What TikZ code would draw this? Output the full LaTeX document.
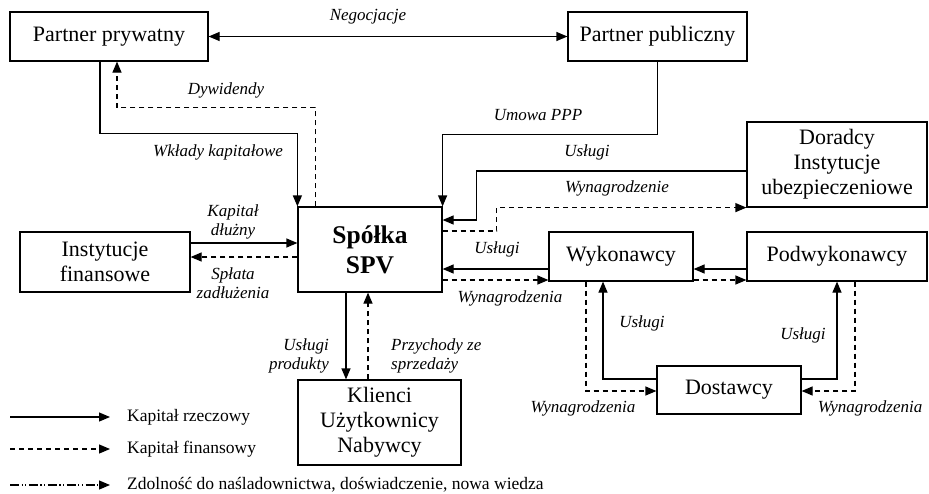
\documentclass[tikz,border=0pt]{standalone}
\usepackage{fontspec}
\setmainfont{Liberation Serif}
\usetikzlibrary{arrows.meta}
\begin{document}
\begin{tikzpicture}[x=1pt,y=-1pt,
  box/.style={draw,line width=1.2pt,inner sep=0pt,align=center,font=\fontsize{22}{25}\selectfont},
  lab/.style={inner sep=0pt,font=\fontsize{17}{19.5}\selectfont\itshape},
  leg/.style={inner sep=0pt,anchor=west,font=\fontsize{17.5}{20}\selectfont},
  tip/.style={-{Triangle[length=11pt,width=9pt]}},
  sarr/.style={tip,line width=1.2pt},
  darr/.style={tip,line width=1.2pt,dash pattern=on 5pt off 4pt},
  ddarr/.style={tip,line width=1.2pt,dash pattern=on 9pt off 2.5pt on 1.2pt off 2.5pt on 1.2pt off 2.5pt}]
\useasboundingbox (0,0) rectangle (929,493);
% boxes
\node[box,minimum width=198pt,minimum height=49pt] (pp) at (109,36.5) {Partner prywatny};
\node[box,minimum width=179pt,minimum height=49pt] (pub) at (657.5,36.5) {Partner publiczny};
\node[box,minimum width=144pt,minimum height=85pt,font=\fontsize{25.5}{30}\selectfont\bfseries] (spv) at (370,249.5) {Spółka\\SPV};
\node[box,minimum width=180pt,minimum height=85pt] (dor) at (837,164.5) {Doradcy\\Instytucje\\ubezpieczeniowe};
\node[box,minimum width=170pt,minimum height=60pt] (inst) at (105,262) {Instytucje\\finansowe};
\node[box,minimum width=144pt,minimum height=49pt] (wyk) at (621,256.5) {Wykonawcy};
\node[box,minimum width=180pt,minimum height=49pt] (podw) at (837,256.5) {Podwykonawcy};
\node[box,minimum width=144pt,minimum height=48pt] (dost) at (729,390) {Dostawcy};
\node[box,minimum width=163pt,minimum height=85pt] (kli) at (379.5,422.5) {Klienci\\Użytkownicy\\Nabywcy};
% connectors
\draw[sarr,{Triangle[length=11pt,width=9pt]}-{Triangle[length=11pt,width=9pt]}] (pp.east) -- (pub.west);
\draw[sarr] ([xshift=-9pt]pp.south) -- ++(0,72) -| (spv.north west);
\draw[darr] ([xshift=18pt]spv.north west) -- ++(0,-99) -| ([xshift=8pt]pp.south);
\draw[sarr] (pub.south) -- ++(0,73) -| (spv.north east);
\draw[sarr] ([yshift=-6.5pt]dor.west) -- ++(-270,0) |- ([yshift=29.5pt]spv.east);
\draw[darr] ([yshift=18.5pt]spv.east) -- ++(54,0) |- (dor.south west);
\draw[sarr] ([yshift=19pt]inst.east) -- ([yshift=6.5pt]spv.west);
\draw[darr] ([yshift=-7.5pt]spv.west) -- ([yshift=5pt]inst.east);
\draw[sarr] ([xshift=-24pt]spv.south) -- ([xshift=-33.5pt]kli.north);
\draw[darr] ([xshift=-11.5pt]kli.north) -- ([xshift=-2pt]spv.south);
\draw[sarr] ([yshift=-12.5pt]wyk.west) -- ([yshift=-19.5pt]spv.east);
\draw[darr] ([yshift=-30.5pt]spv.east) -- ([yshift=-23.5pt]wyk.west);
\draw[sarr] ([yshift=-12.5pt]podw.west) -- ([yshift=-12.5pt]wyk.east);
\draw[darr] ([yshift=-23.5pt]wyk.east) -- ([yshift=-23.5pt]podw.west);
\draw[sarr] ([yshift=11pt]dost.west) -| ([xshift=-18pt]wyk.south);
\draw[darr] ([xshift=-35pt]wyk.south) |- ([yshift=-1pt]dost.west);
\draw[sarr] ([yshift=11pt]dost.east) -| (podw.south);
\draw[darr] ([xshift=18pt]podw.south) |- ([yshift=-1pt]dost.east);
% labels
\node[lab] (l1) at (368,17) {Negocjacje};
\node[lab] (l2) at (226,90) {Dywidendy};
\node[lab] (l3) at (218,152) {Wkłady kapitałowe};
\node[lab] (l4) at (538,115) {Umowa PPP};
\node[lab] (l5) at (587,152) {Usługi};
\node[lab] (l6) at (617,188) {Wynagrodzenie};
\node[lab,align=center] (l7) at (233,222) {Kapitał\\dłużny};
\node[lab,align=center] (l8) at (233,283) {Spłata\\zadłużenia};
\node[lab,align=right,anchor=east] (l9) at (329,356) {Usługi\\produkty};
\node[lab,align=left,anchor=west] (l10) at (391,356) {Przychody ze\\sprzedaży};
\node[lab] (l11) at (497,249) {Usługi};
\node[lab] (l12) at (510,298) {Wynagrodzenia};
\node[lab] (l13) at (642,323) {Usługi};
\node[lab] (l14) at (583,408) {Wynagrodzenia};
\node[lab] (l15) at (803,335) {Usługi};
\node[lab] (l16) at (870,408) {Wynagrodzenia};
% legend
\coordinate (a1) at (10,417); \coordinate (b1) at (110,417);
\coordinate (a2) at (10,449); \coordinate (b2) at (110,449);
\coordinate (a3) at (10,485); \coordinate (b3) at (110,485);
\draw[sarr] (a1) -- (b1);
\draw[darr] (a2) -- (b2);
\draw[ddarr] (a3) -- (b3);
\node[leg] (t1) at (127,417) {Kapitał rzeczowy};
\node[leg] (t2) at (127,449) {Kapitał finansowy};
\node[leg] (t3) at (127,485) {Zdolność do naśladownictwa, doświadczenie, nowa wiedza};
\end{tikzpicture}
\end{document}
